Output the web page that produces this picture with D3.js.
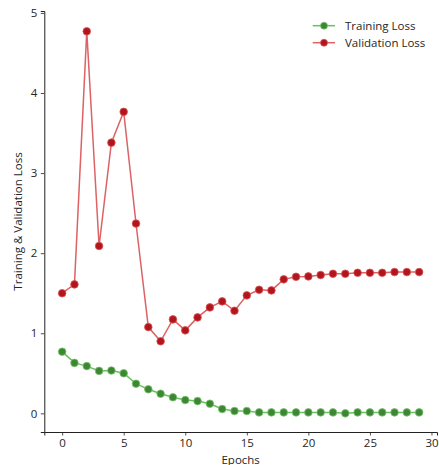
<!DOCTYPE html>
<html>
<head>
<meta charset="utf-8">
<script src="https://cdn.jsdelivr.net/npm/d3@7"></script>
<style>
  html, body { margin: 0; padding: 0; background: #fff; }
  svg { display: block; font-family: "Open Sans", sans-serif; }
</style>
</head>
<body>
<svg id="chart" width="439" height="465"></svg>
<script>
// Loss per epoch
const epochs = d3.range(30);
const trainingLoss = [0.77, 0.63, 0.59, 0.53, 0.535, 0.50, 0.37, 0.30, 0.245, 0.20,
                      0.166, 0.153, 0.12, 0.054, 0.029, 0.029, 0.012, 0.012, 0.012, 0.012,
                      0.012, 0.012, 0.012, 0.0, 0.012, 0.012, 0.012, 0.012, 0.012, 0.012];
const validationLoss = [1.50, 1.61, 4.77, 2.09, 3.38, 3.765, 2.37, 1.077, 0.90, 1.173,
                        1.036, 1.198, 1.323, 1.398, 1.281, 1.473, 1.543, 1.535, 1.673, 1.705,
                        1.71, 1.727, 1.743, 1.743, 1.755, 1.755, 1.755, 1.764, 1.764, 1.764];
const xTicks = [0, 5, 10, 15, 20, 25, 30];
const yTicks = [0, 1, 2, 3, 4, 5];

const svg = d3.select("#chart");
const plot = { left: 44.3, right: 437, top: 11, bottom: 432 };
const fontSize = "11.5px";

const x = d3.scaleLinear().domain([-1.45, 30.45]).range([plot.left, plot.right]);
const y = d3.scaleLinear().domain([-0.233, 5.024]).range([plot.bottom, plot.top]);

// Axes (left and bottom spines only)
const xAxis = svg.append("g")
  .attr("transform", `translate(0,${plot.bottom})`)
  .call(d3.axisBottom(x).tickValues(xTicks).tickSize(3.5).tickPadding(3).tickFormat(d3.format("d")));
const yAxis = svg.append("g")
  .attr("transform", `translate(${plot.left},0)`)
  .call(d3.axisLeft(y).tickValues(yTicks).tickSize(3.5).tickPadding(3.5).tickFormat(d3.format("d")));

[xAxis, yAxis].forEach(g => {
  g.select(".domain").attr("stroke", "#222").attr("stroke-width", 1);
  g.selectAll(".tick line").attr("stroke", "#222").attr("stroke-width", 0.8);
  g.selectAll(".tick text").attr("fill", "#262626").style("font-size", fontSize)
    .style("font-family", "Open Sans, sans-serif");
});

// Axis titles
svg.append("text")
  .attr("x", (plot.left + plot.right) / 2).attr("y", 463.5)
  .attr("text-anchor", "middle").style("font-size", fontSize).attr("fill", "#262626")
  .text("Epochs");
svg.append("text")
  .attr("transform", `translate(22,${(plot.top + plot.bottom) / 2}) rotate(-90)`)
  .attr("text-anchor", "middle").style("font-size", fontSize).attr("fill", "#262626")
  .text("Training & Validation Loss");

const series = [
  { name: "Training Loss", values: trainingLoss, line: "#68c060", fill: "#3e8636", edge: "#74c868" },
  { name: "Validation Loss", values: validationLoss, line: "#dc6264", fill: "#b1151e", edge: "#dc5454" }
];

const line = d3.line().x((d, i) => x(epochs[i])).y(d => y(d));

series.forEach(s => {
  const g = svg.append("g");
  g.append("path").datum(s.values)
    .attr("d", line).attr("fill", "none")
    .attr("stroke", s.line).attr("stroke-width", 1.5);
  g.selectAll("circle").data(s.values).join("circle")
    .attr("cx", (d, i) => x(epochs[i])).attr("cy", d => y(d))
    .attr("r", 3.8).attr("fill", s.fill)
    .attr("stroke", s.edge).attr("stroke-width", 0.8);
});

// Legend
const legend = svg.append("g");
series.forEach((s, i) => {
  const ly = 25.7 + i * 17;
  legend.append("line").attr("x1", 312.7).attr("x2", 335).attr("y1", ly).attr("y2", ly)
    .attr("stroke", s.line).attr("stroke-width", 1.5);
  legend.append("circle").attr("cx", 324).attr("cy", ly).attr("r", 3.5)
    .attr("fill", s.fill).attr("stroke", s.edge).attr("stroke-width", 0.8);
  legend.append("text").attr("x", 345).attr("y", ly).attr("dy", "0.35em")
    .style("font-size", fontSize).attr("fill", "#262626").text(s.name);
});
</script>
</body>
</html>
